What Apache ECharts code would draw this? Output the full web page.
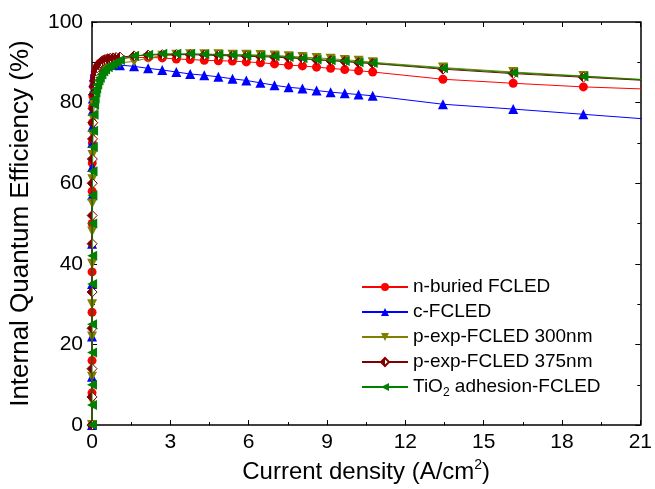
<!DOCTYPE html>
<html>
<head>
<meta charset="utf-8">
<script src="https://cdn.jsdelivr.net/npm/echarts@6/dist/echarts.min.js"></script>
<style>html,body{margin:0;padding:0;background:#fff}#c{width:655px;height:489px}</style>
</head>
<body>
<div id="c"></div>
<script>
// Current density (A/cm^2)
const currentDensity = [0, 0.0005, 0.001, 0.002, 0.003, 0.005, 0.007, 0.01, 0.014, 0.02, 0.03, 0.04, 0.06, 0.08, 0.1, 0.13, 0.16, 0.2, 0.25, 0.3, 0.36, 0.43, 0.5, 0.6, 0.7, 0.8, 0.92, 1.07,
  1.61, 2.15, 2.69, 3.23, 3.76, 4.30, 4.84, 5.38, 5.91, 6.45, 6.99, 7.53, 8.06, 8.60, 9.14, 9.68, 10.21, 10.75,
  13.44, 16.13, 18.82, 21.5];

const nBuried = [0, 8, 16, 28, 38, 50, 58, 65, 70, 75, 79, 81.5, 84, 85.5, 86.5, 87.5, 88.2, 88.8, 89.3, 89.7, 90.0, 90.2, 90.4, 90.6, 90.7, 90.8, 90.9, 91.0,
  91.2, 91.2, 91.1, 90.8, 90.7, 90.5, 90.4, 90.3, 90.1, 89.9, 89.6, 89.3, 89.1, 88.8, 88.5, 88.2, 87.9, 87.6,
  85.8, 84.8, 83.9, 83.3];

const cFcled = [0, 12, 22, 35, 45, 57, 64, 70, 74, 78, 81, 83, 85, 86.3, 87.2, 88, 88.6, 89.1, 89.5, 89.7, 89.8, 89.8, 89.8, 89.7, 89.6, 89.5, 89.4, 89.3,
  89.0, 88.5, 88.1, 87.6, 87.1, 86.8, 86.4, 85.9, 85.5, 84.9, 84.3, 83.8, 83.5, 83.0, 82.6, 82.3, 82.0, 81.7,
  79.6, 78.4, 77.1, 75.8];

const pExp300 = [0, 6, 12, 22, 30, 40, 48, 55, 61, 67, 72, 76, 79.5, 81.5, 83, 84.5, 85.5, 86.5, 87.3, 87.8, 88.3, 88.7, 89.0, 89.3, 89.5, 89.7, 89.8, 89.9,
  90.2, 91.1, 91.6, 91.9, 92.0, 92.0, 92.0, 91.9, 91.9, 91.8, 91.7, 91.5, 91.3, 91.1, 90.9, 90.6, 90.4, 90.0,
  88.7, 87.6, 86.6, 85.6];

const pExp375 = [0, 7, 14, 24, 33, 45, 52, 60, 66, 71, 75, 78.5, 82, 84, 85.5, 86.8, 87.8, 88.6, 89.3, 89.8, 90.2, 90.5, 90.7, 90.9, 91.0, 91.1, 91.2, 91.3,
  91.6, 91.8, 91.9, 91.9, 91.9, 91.8, 91.7, 91.6, 91.5, 91.4, 91.3, 91.1, 90.9, 90.6, 90.4, 90.2, 89.9, 89.7,
  88.3, 87.2, 86.3, 85.4];

const tio2 = [0, 5, 10, 18, 25, 35, 42, 50, 57, 63, 69, 73, 77, 79.5, 81, 82.5, 83.5, 84.5, 85.5, 86.2, 87, 87.7, 88.2, 88.8, 89.2, 89.6, 90.0, 90.6,
  91.6, 91.9, 92.1, 92.1, 92.1, 92.0, 91.9, 91.8, 91.7, 91.6, 91.5, 91.3, 91.0, 90.7, 90.5, 90.3, 90.0, 89.8,
  88.5, 87.4, 86.5, 85.5];

const seriesNames = ['n-buried FCLED', 'c-FCLED', 'p-exp-FCLED 300nm', 'p-exp-FCLED 375nm', 'TiO2 adhesion-FCLED'];
const seriesValues = [nBuried, cFcled, pExp300, pExp375, tio2];

const colors = ['#ff0000', '#0000ff', '#808000', '#800000', '#008000'];
const symbols = ['circle', 'triangle', 'path://M0,0 L10,0 L5,9 Z', 'diamond', 'path://M9,0 L9,10 L0,5 Z'];
const sizes = [9, 10, 10, 10, 10];

const chart = echarts.init(document.getElementById('c'), null, {renderer: 'canvas'});

const series = seriesValues.map((vals, i) => {
  let itemColor = colors[i];
  if (i === 3) {
    itemColor = new echarts.graphic.LinearGradient(0, 0, 1, 0, [
      {offset: 0, color: '#800000'}, {offset: 0.5, color: '#800000'},
      {offset: 0.5, color: '#ffffff'}, {offset: 1, color: '#ffffff'}
    ]);
  }
  return {
    name: seriesNames[i],
    type: 'line',
    data: currentDensity.map((x, k) => [x, vals[k]]),
    symbol: symbols[i],
    symbolSize: sizes[i],
    showAllSymbol: true,
    lineStyle: {color: colors[i], width: 1},
    itemStyle: {color: itemColor, borderColor: colors[i], borderWidth: i === 3 ? 1 : 0},
    clip: true,
    z: 2 + i,
    animation: false
  };
});

const fontFam = 'Liberation Sans, Arial, sans-serif';

chart.setOption({
  animation: false,
  backgroundColor: '#ffffff',
  grid: {left: 91, right: 11, top: 22, bottom: 60},
  legend: {
    orient: 'vertical',
    left: 356,
    top: 272,
    itemWidth: 46,
    itemHeight: 10,
    itemGap: 5,
    data: seriesNames,
    textStyle: {
      fontFamily: fontFam, fontSize: 19, color: '#000', lineHeight: 20,
      rich: {
        n: {fontFamily: fontFam, fontSize: 19, color: '#000'},
        sub: {fontFamily: fontFam, fontSize: 12, color: '#000', padding: [12, 0, 0, 0]}
      }
    },
    formatter: function (name) {
      if (name.indexOf('TiO2') === 0) return '{n|TiO}{sub|2}{n| adhesion-FCLED}';
      return name;
    }
  },
  xAxis: [{
    type: 'value', min: 0, max: 21, interval: 3,
    name: 'Current density (A/cm{sup|2})',
    nameLocation: 'middle', nameGap: 31,
    nameTextStyle: {
      fontFamily: fontFam, fontSize: 24, color: '#000',
      rich: {sup: {fontSize: 14, color: '#000', fontFamily: fontFam, padding: [0, 0, 14, 0]}}
    },
    axisLine: {show: true, onZero: false, lineStyle: {color: '#000', width: 1.5}},
    axisTick: {inside: true, length: 5, lineStyle: {color: '#000', width: 1}},
    minorTick: {show: true, splitNumber: 2, length: 3, lineStyle: {color: '#000', width: 1}},
    axisLabel: {fontFamily: fontFam, fontSize: 21, color: '#000', margin: 7},
    splitLine: {show: false}
  }, {
    type: 'value', min: 0, max: 21, interval: 3, position: 'top',
    axisLine: {show: true, onZero: false, lineStyle: {color: '#000', width: 1.5}},
    axisTick: {inside: true, length: 5, lineStyle: {color: '#000', width: 1}},
    minorTick: {show: true, splitNumber: 2, length: 3, lineStyle: {color: '#000', width: 1}},
    axisLabel: {show: false},
    splitLine: {show: false}
  }],
  yAxis: [{
    type: 'value', min: 0, max: 100, interval: 20,
    name: 'Internal Quantum Efficiency (%)',
    nameLocation: 'middle', nameGap: 58,
    nameTextStyle: {fontFamily: fontFam, fontSize: 26, color: '#000'},
    axisLine: {show: true, onZero: false, lineStyle: {color: '#000', width: 1.5}},
    axisTick: {inside: true, length: 5, lineStyle: {color: '#000', width: 1}},
    minorTick: {show: true, splitNumber: 2, length: 3, lineStyle: {color: '#000', width: 1}},
    axisLabel: {fontFamily: fontFam, fontSize: 21, color: '#000', margin: 9},
    splitLine: {show: false}
  }, {
    type: 'value', min: 0, max: 100, interval: 20, position: 'right',
    axisLine: {show: true, onZero: false, lineStyle: {color: '#000', width: 1.5}},
    axisTick: {inside: true, length: 5, lineStyle: {color: '#000', width: 1}},
    minorTick: {show: true, splitNumber: 2, length: 3, lineStyle: {color: '#000', width: 1}},
    axisLabel: {show: false},
    splitLine: {show: false}
  }],
  series: series
});
</script>
</body>
</html>
